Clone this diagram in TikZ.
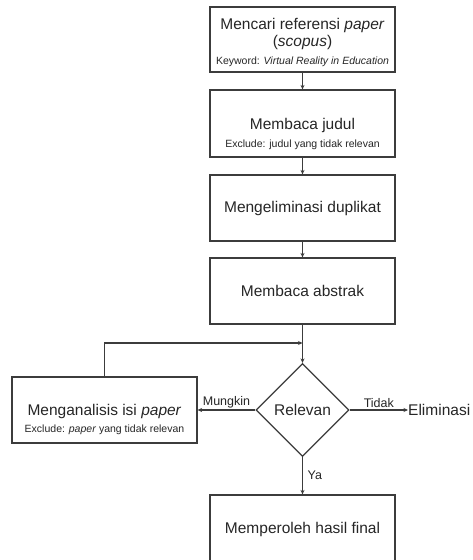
\documentclass[tikz,border=0pt]{standalone}
\usepackage{fontspec}
\setmainfont{Liberation Sans}
\usetikzlibrary{shapes.geometric,arrows.meta}
\definecolor{ln}{HTML}{3C3C3C}
\definecolor{tx}{HTML}{262626}
\tikzset{
  box/.style={draw=ln,line width=1.2pt,minimum width=185pt,minimum height=66pt,inner sep=0pt},
  dia/.style={draw=ln,line width=1.2pt,shape=diamond,minimum width=93pt,minimum height=93pt,inner sep=0pt,text=tx,font=\fontsize{15.5}{18}\selectfont},
  maintxt/.style={text=tx,font=\fontsize{15.5}{18}\selectfont,inner sep=0pt,align=center},
  smalltxt/.style={text=tx,font=\fontsize{10.5}{12}\selectfont,inner sep=0pt},
  lbl/.style={text=tx,font=\fontsize{12.5}{14}\selectfont,inner sep=1.5pt},
  arr/.style={draw=ln,line width=1.2pt,-{Stealth[length=4.5pt,width=4pt]}}
}
\begin{document}
\begin{tikzpicture}[x=1pt,y=-1pt]
\useasboundingbox[fill=white] (0,0) rectangle (472,560);
% boxes
\node[box,minimum height=65pt] (b1) at (302.5,39.5) {};
\node[maintxt] (t1a) at (302.5,25) {Mencari referensi \textit{paper}};
\node[maintxt] (t1b) at (302.5,42.5) {(\textit{scopus})};
\node[smalltxt] (t1c) at (302.5,62) {Keyword: \textit{Virtual Reality in Education}};

\node[box,minimum height=67pt] (b2) at (302.5,123.5) {};
\node[maintxt] (t2a) at (302.5,125) {Membaca judul};
\node[smalltxt] (t2b) at (302.5,145) {Exclude: judul yang tidak relevan};

\node[box] (b3) at (302.5,208) {};
\node[maintxt] (t3) at (302.5,208) {Mengeliminasi duplikat};

\node[box] (b4) at (302.5,291) {};
\node[maintxt] (t4) at (302.5,291) {Membaca abstrak};

\node[dia] (d) at (302.5,410) {Relevan};

\node[box] (lb) at (104.5,410) {};
\node[maintxt] (tla) at (104.5,411) {Menganalisis isi \textit{paper}};
\node[smalltxt] (tlb) at (104.5,430) {Exclude: \textit{paper} yang tidak relevan};

\node[box] (b5) at (302.5,528) {};
\node[maintxt] (t5) at (302.5,529) {Memperoleh hasil final};

\node[maintxt,anchor=west] (el) at (408,410) {Eliminasi};

% connectors
\draw[arr] (b1) -- (b2);
\draw[arr] (b2) -- (b3);
\draw[arr] (b3) -- (b4);
\draw[arr] (b4) -- (d);
\coordinate (j) at (302.5,343);
\draw[arr] (lb.north) |- (j);
\draw[arr] (d.west) -- node[lbl,above] {Mungkin} (lb.east);
\draw[arr] (d.east) -- node[lbl,above] {Tidak} (el.west);
\draw[arr] (d.south) -- node[lbl,right,xshift=3pt] {Ya} (b5.north);
\end{tikzpicture}
\end{document}
